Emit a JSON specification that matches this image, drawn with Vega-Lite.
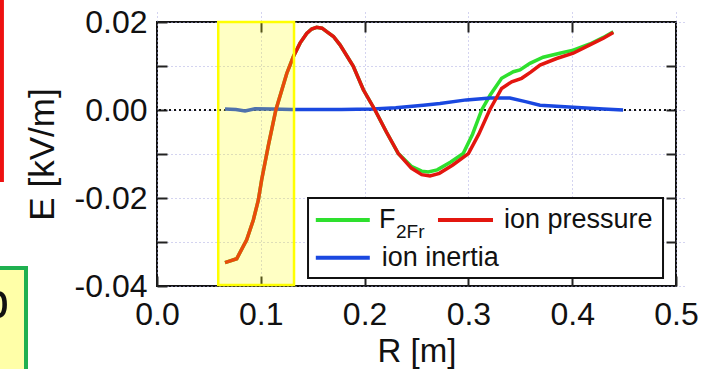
{
  "$schema": "https://vega.github.io/schema/vega-lite/v6.json",
  "width": 519,
  "height": 264,
  "autosize": {"type": "none"},
  "padding": {"left": 157, "top": 22, "right": 31, "bottom": 83},
  "background": "white",
  "config": {
    "font": "Liberation Sans",
    "view": {"stroke": "#111", "strokeWidth": 2},
    "axis": {
      "labelFont": "Liberation Sans", "labelFontSize": 32, "labelColor": "#111",
      "titleFont": "Liberation Sans", "titleFontSize": 33, "titleFontWeight": "normal", "titleColor": "#111",
      "ticks": true, "tickColor": "#222", "tickWidth": 2, "tickSize": 10, "offset": -10, "domain": false,
      "gridColor": "#a8a8e0", "gridDash": [1, 3], "gridWidth": 1,
      "labelOverlap": false, "labelFlush": false
    }
  },
  "datasets": {
    "one": [{}],
    "curves": [
      {"s": "F2Fr", "R": 0.0655, "E": -0.0347}, {"s": "F2Fr", "R": 0.0768, "E": -0.0338}, {"s": "F2Fr", "R": 0.0864, "E": -0.0295},
      {"s": "F2Fr", "R": 0.0928, "E": -0.025}, {"s": "F2Fr", "R": 0.0976, "E": -0.0205}, {"s": "F2Fr", "R": 0.1008, "E": -0.0159},
      {"s": "F2Fr", "R": 0.1075, "E": -0.0078}, {"s": "F2Fr", "R": 0.1145, "E": 0.0}, {"s": "F2Fr", "R": 0.125, "E": 0.0083},
      {"s": "F2Fr", "R": 0.1313, "E": 0.0121}, {"s": "F2Fr", "R": 0.1378, "E": 0.0152}, {"s": "F2Fr", "R": 0.1442, "E": 0.0174},
      {"s": "F2Fr", "R": 0.149, "E": 0.0184}, {"s": "F2Fr", "R": 0.1538, "E": 0.0188}, {"s": "F2Fr", "R": 0.159, "E": 0.0186},
      {"s": "F2Fr", "R": 0.1635, "E": 0.0178}, {"s": "F2Fr", "R": 0.17, "E": 0.0167}, {"s": "F2Fr", "R": 0.1763, "E": 0.0148},
      {"s": "F2Fr", "R": 0.189, "E": 0.01}, {"s": "F2Fr", "R": 0.1988, "E": 0.0046}, {"s": "F2Fr", "R": 0.21, "E": 0.0},
      {"s": "F2Fr", "R": 0.221, "E": -0.005}, {"s": "F2Fr", "R": 0.2325, "E": -0.0099}, {"s": "F2Fr", "R": 0.245, "E": -0.0128},
      {"s": "F2Fr", "R": 0.255, "E": -0.0139}, {"s": "F2Fr", "R": 0.2614, "E": -0.0141}, {"s": "F2Fr", "R": 0.27, "E": -0.0136},
      {"s": "F2Fr", "R": 0.283, "E": -0.0118}, {"s": "F2Fr", "R": 0.295, "E": -0.0099}, {"s": "F2Fr", "R": 0.304, "E": -0.0055},
      {"s": "F2Fr", "R": 0.3128, "E": 0.0}, {"s": "F2Fr", "R": 0.321, "E": 0.0034}, {"s": "F2Fr", "R": 0.332, "E": 0.0072},
      {"s": "F2Fr", "R": 0.3433, "E": 0.0087}, {"s": "F2Fr", "R": 0.3497, "E": 0.0091}, {"s": "F2Fr", "R": 0.3593, "E": 0.0106},
      {"s": "F2Fr", "R": 0.372, "E": 0.012}, {"s": "F2Fr", "R": 0.388, "E": 0.0129}, {"s": "F2Fr", "R": 0.401, "E": 0.0136},
      {"s": "F2Fr", "R": 0.417, "E": 0.015}, {"s": "F2Fr", "R": 0.43, "E": 0.0165}, {"s": "F2Fr", "R": 0.4396, "E": 0.0178},

      {"s": "ion inertia", "R": 0.0655, "E": 0.0002}, {"s": "ion inertia", "R": 0.076, "E": 0.0001}, {"s": "ion inertia", "R": 0.0848, "E": -0.0002},
      {"s": "ion inertia", "R": 0.0944, "E": 0.0003}, {"s": "ion inertia", "R": 0.11, "E": 0.0002}, {"s": "ion inertia", "R": 0.13, "E": 0.0001},
      {"s": "ion inertia", "R": 0.15, "E": 0.0001}, {"s": "ion inertia", "R": 0.1773, "E": 0.0001}, {"s": "ion inertia", "R": 0.208, "E": 0.0002},
      {"s": "ion inertia", "R": 0.23, "E": 0.0005}, {"s": "ion inertia", "R": 0.2566, "E": 0.0011}, {"s": "ion inertia", "R": 0.2726, "E": 0.0015},
      {"s": "ion inertia", "R": 0.298, "E": 0.0023}, {"s": "ion inertia", "R": 0.321, "E": 0.0027}, {"s": "ion inertia", "R": 0.34, "E": 0.0027},
      {"s": "ion inertia", "R": 0.355, "E": 0.0019}, {"s": "ion inertia", "R": 0.369, "E": 0.0011}, {"s": "ion inertia", "R": 0.401, "E": 0.0006},
      {"s": "ion inertia", "R": 0.43, "E": 0.0002}, {"s": "ion inertia", "R": 0.449, "E": 0.0},

      {"s": "ion pressure", "R": 0.0655, "E": -0.0347}, {"s": "ion pressure", "R": 0.0768, "E": -0.0338}, {"s": "ion pressure", "R": 0.0864, "E": -0.0295},
      {"s": "ion pressure", "R": 0.0928, "E": -0.025}, {"s": "ion pressure", "R": 0.0976, "E": -0.0205}, {"s": "ion pressure", "R": 0.1008, "E": -0.0159},
      {"s": "ion pressure", "R": 0.1075, "E": -0.0078}, {"s": "ion pressure", "R": 0.1145, "E": 0.0}, {"s": "ion pressure", "R": 0.125, "E": 0.0083},
      {"s": "ion pressure", "R": 0.1313, "E": 0.0121}, {"s": "ion pressure", "R": 0.1378, "E": 0.0152}, {"s": "ion pressure", "R": 0.1442, "E": 0.0174},
      {"s": "ion pressure", "R": 0.149, "E": 0.0184}, {"s": "ion pressure", "R": 0.1538, "E": 0.0188}, {"s": "ion pressure", "R": 0.159, "E": 0.0186},
      {"s": "ion pressure", "R": 0.1635, "E": 0.0178}, {"s": "ion pressure", "R": 0.17, "E": 0.0167}, {"s": "ion pressure", "R": 0.1763, "E": 0.0148},
      {"s": "ion pressure", "R": 0.189, "E": 0.01}, {"s": "ion pressure", "R": 0.1988, "E": 0.0046}, {"s": "ion pressure", "R": 0.21, "E": 0.0},
      {"s": "ion pressure", "R": 0.221, "E": -0.005}, {"s": "ion pressure", "R": 0.2325, "E": -0.0099}, {"s": "ion pressure", "R": 0.245, "E": -0.0132},
      {"s": "ion pressure", "R": 0.255, "E": -0.0147}, {"s": "ion pressure", "R": 0.263, "E": -0.015}, {"s": "ion pressure", "R": 0.272, "E": -0.0144},
      {"s": "ion pressure", "R": 0.285, "E": -0.0125}, {"s": "ion pressure", "R": 0.3, "E": -0.0099}, {"s": "ion pressure", "R": 0.31, "E": -0.0055},
      {"s": "ion pressure", "R": 0.3205, "E": 0.0}, {"s": "ion pressure", "R": 0.332, "E": 0.0049}, {"s": "ion pressure", "R": 0.3417, "E": 0.0064},
      {"s": "ion pressure", "R": 0.3513, "E": 0.0072}, {"s": "ion pressure", "R": 0.36, "E": 0.0086}, {"s": "ion pressure", "R": 0.369, "E": 0.0102},
      {"s": "ion pressure", "R": 0.385, "E": 0.0117}, {"s": "ion pressure", "R": 0.401, "E": 0.0129}, {"s": "ion pressure", "R": 0.417, "E": 0.0148},
      {"s": "ion pressure", "R": 0.43, "E": 0.0163}, {"s": "ion pressure", "R": 0.4396, "E": 0.0176}
    ]
  },
  "layer": [
    {
      "layer": [
        {
          "data": {"name": "one"},
          "mark": {"type": "rule", "color": "#111", "strokeWidth": 2, "strokeDash": [2, 3]},
          "encoding": {
            "y": {"datum": 0, "type": "quantitative",
              "scale": {"domain": [-0.04, 0.02], "nice": false, "zero": false},
              "axis": {
                "values": [-0.04, -0.03, -0.02, -0.01, 0, 0.01, 0.02],
                "format": ".2f", "grid": true,
                "labelExpr": "abs(round(datum.value*100)) % 2 == 1 ? '' : replace(datum.label, '\u2212', '-')",
                "title": "E [kV/m]", "titleFontSize": 35, "titlePadding": 14, "labelPadding": 10
              }
            }
          }
        },
        {
          "data": {"name": "curves"},
          "transform": [{"filter": "datum.s == 'F2Fr'"}],
          "mark": {"type": "line", "color": "#2ee02e", "strokeWidth": 3.5},
          "encoding": {
            "x": {"field": "R", "type": "quantitative",
              "scale": {"domain": [0, 0.5], "nice": false, "zero": false},
              "axis": {"values": [0, 0.1, 0.2, 0.3, 0.4, 0.5], "format": ".1f", "title": "R [m]", "labelPadding": 13, "titlePadding": 5, "grid": true}
            },
            "y": {"field": "E", "type": "quantitative"}
          }
        },
        {
          "data": {"name": "curves"},
          "transform": [{"filter": "datum.s == 'ion inertia'"}],
          "mark": {"type": "line", "color": "#1a48e0", "strokeWidth": 3.5},
          "encoding": {"x": {"field": "R", "type": "quantitative"}, "y": {"field": "E", "type": "quantitative"}}
        },
        {
          "data": {"name": "curves"},
          "transform": [{"filter": "datum.s == 'ion pressure'"}],
          "mark": {"type": "line", "color": "#e3160f", "strokeWidth": 3.5},
          "encoding": {"x": {"field": "R", "type": "quantitative"}, "y": {"field": "E", "type": "quantitative"}}
        },
        {
          "data": {"name": "one"},
          "mark": {"type": "rect", "fill": "#ffff00", "fillOpacity": 0.23, "stroke": "#ffff00", "strokeWidth": 2.5},
          "encoding": {
            "x": {"datum": 0.059, "type": "quantitative"}, "x2": {"datum": 0.132},
            "y": {"datum": 0.02, "type": "quantitative"}, "y2": {"datum": -0.0398}
          }
        },
        {
          "data": {"name": "one"},
          "mark": {"type": "rect", "fill": "white", "stroke": "#111", "strokeWidth": 2},
          "encoding": {
            "x": {"datum": 0.1455, "type": "quantitative"}, "x2": {"datum": 0.4875},
            "y": {"datum": -0.02, "type": "quantitative"}, "y2": {"datum": -0.0382}
          }
        },
        {
          "data": {"name": "one"},
          "mark": {"type": "rule", "color": "#2ee02e", "strokeWidth": 4},
          "encoding": {"x": {"datum": 0.153, "type": "quantitative"}, "x2": {"datum": 0.205}, "y": {"datum": -0.025, "type": "quantitative"}}
        },
        {
          "data": {"name": "one"},
          "mark": {"type": "rule", "color": "#e3160f", "strokeWidth": 4},
          "encoding": {"x": {"datum": 0.2707, "type": "quantitative"}, "x2": {"datum": 0.3237}, "y": {"datum": -0.025, "type": "quantitative"}}
        },
        {
          "data": {"name": "one"},
          "mark": {"type": "rule", "color": "#1a48e0", "strokeWidth": 4},
          "encoding": {"x": {"datum": 0.153, "type": "quantitative"}, "x2": {"datum": 0.205}, "y": {"datum": -0.0336, "type": "quantitative"}}
        },
        {
          "data": {"name": "one"},
          "mark": {"type": "text", "text": "F", "font": "Liberation Sans", "fontSize": 27, "align": "left", "baseline": "alphabetic", "color": "#111"},
          "encoding": {"x": {"datum": 0.2139, "type": "quantitative"}, "y": {"datum": -0.0269, "type": "quantitative"}}
        },
        {
          "data": {"name": "one"},
          "mark": {"type": "text", "text": "2Fr", "font": "Liberation Sans", "fontSize": 19, "align": "left", "baseline": "alphabetic", "color": "#111"},
          "encoding": {"x": {"datum": 0.2303, "type": "quantitative"}, "y": {"datum": -0.0291, "type": "quantitative"}}
        },
        {
          "data": {"name": "one"},
          "mark": {"type": "text", "text": "ion pressure", "font": "Liberation Sans", "fontSize": 27, "align": "left", "baseline": "alphabetic", "color": "#111"},
          "encoding": {"x": {"datum": 0.3343, "type": "quantitative"}, "y": {"datum": -0.0269, "type": "quantitative"}}
        },
        {
          "data": {"name": "one"},
          "mark": {"type": "text", "text": "ion inertia", "font": "Liberation Sans", "fontSize": 27, "align": "left", "baseline": "alphabetic", "color": "#111"},
          "encoding": {"x": {"datum": 0.2165, "type": "quantitative"}, "y": {"datum": -0.0355, "type": "quantitative"}}
        },
        {
          "data": {"name": "one"},
          "mark": {"type": "rect", "fill": "white", "stroke": "#ee1111", "strokeWidth": 4, "clip": false},
          "encoding": {
            "x": {"datum": -0.2, "type": "quantitative"}, "x2": {"datum": -0.1494},
            "y": {"datum": 0.03, "type": "quantitative"}, "y2": {"datum": -0.0159}
          }
        },
        {
          "data": {"name": "one"},
          "mark": {"type": "rect", "fill": "#ffffa8", "stroke": "#1fb050", "strokeWidth": 4, "clip": false},
          "encoding": {
            "x": {"datum": -0.2, "type": "quantitative"}, "x2": {"datum": -0.1262},
            "y": {"datum": -0.0359, "type": "quantitative"}, "y2": {"datum": -0.07}
          }
        },
        {
          "data": {"name": "one"},
          "mark": {"type": "text", "text": "p", "font": "Liberation Sans", "fontSize": 50, "align": "right", "baseline": "alphabetic", "color": "#111", "clip": false},
          "encoding": {"x": {"datum": -0.1425, "type": "quantitative"}, "y": {"datum": -0.0472, "type": "quantitative"}}
        }
      ]
    },
    {
      "data": {"name": "one"},
      "mark": {"type": "point", "opacity": 0},
      "encoding": {
        "x": {"datum": 0.2, "type": "quantitative",
          "axis": {"orient": "top", "values": [0.1, 0.2, 0.3, 0.4], "labels": false, "title": null, "grid": false}},
        "y": {"datum": 0, "type": "quantitative",
          "axis": {"orient": "right", "values": [-0.03, -0.02, -0.01, 0, 0.01], "labels": false, "title": null, "grid": false}}
      }
    }
  ],
  "resolve": {"axis": {"x": "independent", "y": "independent"}}
}
